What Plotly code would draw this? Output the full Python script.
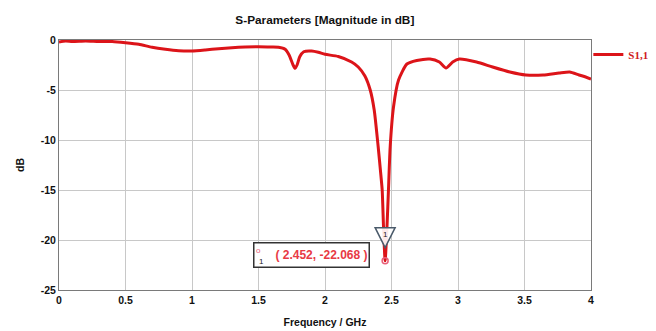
import numpy as np
import plotly.graph_objects as go

freq_ghz = [0.0, 0.05, 0.1, 0.2, 0.3, 0.4, 0.5, 0.6, 0.7, 0.8, 0.9, 1.0, 1.1, 1.2, 1.3, 1.4, 1.5, 1.6,
            1.65, 1.7, 1.73, 1.76, 1.775, 1.79, 1.81, 1.84, 1.9, 1.95, 2.0, 2.1, 2.2, 2.25, 2.3, 2.34,
            2.37, 2.40, 2.42, 2.43, 2.44, 2.452, 2.466, 2.478, 2.49, 2.515, 2.553, 2.616, 2.69, 2.79,
            2.86, 2.91, 2.96, 3.01, 3.14, 3.26, 3.39, 3.51, 3.64, 3.76, 3.84, 3.91, 3.96, 4.0]
s11_db = [-0.2, -0.1, -0.15, -0.1, -0.15, -0.15, -0.27, -0.43, -0.73, -0.93, -1.07, -1.1, -1.0, -0.87,
          -0.77, -0.7, -0.67, -0.7, -0.73, -0.93, -1.5, -2.5, -2.83, -2.5, -1.67, -1.17, -1.1, -1.23,
          -1.43, -1.65, -2.2, -2.7, -3.6, -5.0, -7.0, -10.7, -13.5, -15.0, -18.7, -22.068, -18.7,
          -14.7, -10.7, -6.7, -4.0, -2.4, -2.05, -1.9, -2.2, -2.8, -2.2, -1.9, -2.2, -2.7, -3.2, -3.5,
          -3.5, -3.3, -3.2, -3.5, -3.7, -3.9]

x_ticks = [0, 0.5, 1, 1.5, 2, 2.5, 3, 3.5, 4]
x_tick_labels = ["0", "0.5", "1", "1.5", "2", "2.5", "3", "3.5", "4"]
y_ticks = [0, -5, -10, -15, -20, -25]
y_tick_labels = ["0", "-5", "-10", "-15", "-20", "-25"]

series_name = "S1,1"
title_text = "S-Parameters [Magnitude in dB]"
x_title = "Frequency / GHz"
y_title = "dB"

imin = int(np.argmin(s11_db))
f_min = freq_ghz[imin]
v_min = s11_db[imin]
marker_label = f"( {f_min:.3f}, {v_min:.3f} )"

fig = go.Figure()
fig.add_trace(go.Scatter(
    x=freq_ghz, y=s11_db, mode="lines", name=series_name,
    line=dict(color="#dc1419", width=3, shape="spline", smoothing=0.6),
))
fig.add_trace(go.Scatter(
    x=[f_min], y=[v_min], mode="markers", showlegend=False,
    marker=dict(symbol="circle-open", size=6, color="#e8607a", line=dict(width=1.5)),
))

# marker triangle above the minimum
fig.add_shape(type="path", xref="x", yref="y", xsizemode="pixel", ysizemode="pixel",
              xanchor=f_min, yanchor=v_min,
              path="M -10,33 L 10,33 L 0,13 Z",
              line=dict(color="#4a5a6a", width=1.5), fillcolor="rgba(255,255,255,0.9)")
fig.add_annotation(x=f_min, y=v_min, xref="x", yref="y", text="1", showarrow=False,
                   yshift=26, font=dict(size=8, color="#222", family="Liberation Sans"))

# marker readout box
fig.add_annotation(x=f_min, y=v_min, xref="x", yref="y", text=marker_label, showarrow=False,
                   xanchor="right", yanchor="middle", xshift=-15, yshift=6,
                   width=112, height=21, align="right",
                   bordercolor="#333", borderwidth=1.5, borderpad=1, bgcolor="white",
                   font=dict(size=12, color="#e83a44", family="Liberation Sans", weight="bold"))
fig.add_annotation(x=f_min, y=v_min, xref="x", yref="y", text="1", showarrow=False,
                   xanchor="center", yanchor="middle", xshift=-124, yshift=-1,
                   font=dict(size=8, color="#222", family="Liberation Sans"))
fig.add_annotation(x=f_min, y=v_min, xref="x", yref="y", text="o", showarrow=False,
                   xanchor="center", yanchor="middle", xshift=-127, yshift=10,
                   font=dict(size=8, color="#e8607a", family="Liberation Sans"))

axis_font = dict(family="Liberation Sans", size=10.5, color="#111", weight="bold")
fig.update_layout(
    width=656, height=331,
    margin=dict(l=51, r=73, t=32, b=49, autoexpand=False),
    paper_bgcolor="white", plot_bgcolor="white",
    title=dict(text=title_text, x=0.483, xanchor="center", y=0.964, yanchor="middle",
               font=dict(family="Liberation Sans", size=11.8, color="#111", weight="bold")),
    showlegend=True,
    legend=dict(x=0.995, y=1.0, xanchor="left", yanchor="top", bgcolor="rgba(0,0,0,0)",
                itemwidth=30, tracegroupgap=0,
                font=dict(family="Liberation Serif", size=11, color="#d01a20", weight="bold")),
    xaxis=dict(range=[0, 4], tickvals=x_ticks, ticktext=x_tick_labels, automargin=False,
               showgrid=True, gridcolor="#c8c8c8", gridwidth=1,
               showline=True, linecolor="#7a7a7a", linewidth=1, mirror=True,
               zeroline=False, ticks="", tickfont=axis_font,
               title=dict(text=x_title, font=axis_font, standoff=14)),
    yaxis=dict(range=[-25, 0], tickvals=y_ticks, ticktext=y_tick_labels, automargin=False,
               showgrid=True, gridcolor="#c8c8c8", gridwidth=1,
               showline=True, linecolor="#7a7a7a", linewidth=1, mirror=True,
               zeroline=False, ticks="", tickfont=axis_font,
               title=dict(text=y_title, font=axis_font, standoff=14)),
)

fig.write_html("out.html")
